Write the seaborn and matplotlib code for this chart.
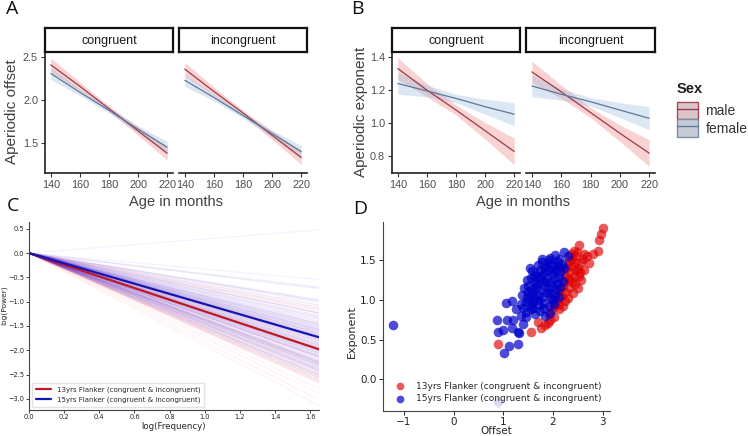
import matplotlib
matplotlib.use("Agg")
import matplotlib.pyplot as plt
from matplotlib.patches import Patch
from matplotlib.lines import Line2D
import seaborn as sns
import pandas as pd

# ---- panels A/B: fitted trends over age (months) ----
ages = [140, 160, 180, 200, 220]
conditions = ["congruent", "incongruent"]
sexes = ["male", "female"]

offset_congruent_male = [2.41, 2.16, 1.90, 1.64, 1.38]
offset_congruent_female = [2.31, 2.09, 1.88, 1.66, 1.45]
offset_incongruent_male = [2.36, 2.10, 1.85, 1.59, 1.33]
offset_incongruent_female = [2.23, 2.03, 1.82, 1.61, 1.40]
offset_ci_male = [0.08, 0.05, 0.03, 0.05, 0.08]
offset_ci_female = [0.07, 0.04, 0.03, 0.04, 0.07]

exponent_congruent_male = [1.33, 1.20, 1.08, 0.955, 0.83]
exponent_congruent_female = [1.24, 1.195, 1.15, 1.10, 1.055]
exponent_incongruent_male = [1.31, 1.19, 1.065, 0.94, 0.82]
exponent_incongruent_female = [1.225, 1.175, 1.13, 1.08, 1.03]
exponent_ci_male = [0.065, 0.04, 0.03, 0.05, 0.08]
exponent_ci_female = [0.065, 0.035, 0.025, 0.045, 0.07]

# ---- panel D: per-subject aperiodic fits ----
offset_13 = [0.89, 1.56, 1.70, 1.76, 1.90, 2.02, 1.85, 1.95, 2.12, 2.20, 2.30, 2.25,
             2.40, 2.50, 2.45, 2.57, 2.52, 2.46, 2.57, 2.63, 2.43, 2.53, 2.63, 2.73,
             2.81, 2.90, 2.93, 2.97, 3.00, 2.10, 2.18, 2.25, 2.32, 2.38, 2.30, 2.35,
             2.40, 2.30, 2.38, 2.45, 2.20, 2.25, 2.15, 2.05, 1.98, 2.28, 2.45, 2.50,
             2.55, 2.42, 2.35, 2.48, 2.36, 2.33, 2.22, 2.12, 1.92, 2.00, 2.10, 2.20,
             2.60, 2.68]
exponent_13 = [0.44, 0.60, 0.72, 0.65, 0.71, 0.78, 0.68, 0.75, 0.88, 0.92, 1.02, 0.98,
               1.08, 1.15, 1.20, 1.25, 1.30, 1.37, 1.47, 1.37, 1.62, 1.69, 1.58, 1.46,
               1.58, 1.62, 1.75, 1.83, 1.90, 1.00, 1.05, 1.10, 1.15, 1.22, 1.28, 1.35,
               1.42, 1.45, 1.52, 1.55, 1.18, 1.30, 1.12, 0.92, 0.88, 1.40, 1.48, 1.40,
               1.35, 1.30, 1.25, 1.60, 1.58, 1.50, 1.22, 0.95, 0.82, 1.00, 1.10, 1.38,
               1.52, 1.55]
offset_15 = [-1.21, 0.89, 1.01, 1.11, 1.29, 0.88, 0.89, 0.99, 1.07, 1.17, 1.19, 1.29,
             1.31, 1.05, 1.17, 1.25, 1.35, 1.40, 1.45,
             1.45, 1.55, 1.65, 1.75, 1.85, 1.95,
             1.35, 1.45, 1.55, 1.62, 1.72, 1.82, 1.92, 2.02,
             1.38, 1.48, 1.56, 1.64, 1.72, 1.80, 1.88, 1.96, 2.05, 2.12,
             1.42, 1.50, 1.58, 1.66, 1.74, 1.82, 1.90, 1.98, 2.06, 2.15,
             1.48, 1.56, 1.64, 1.72, 1.80, 1.88, 1.96, 2.04, 2.12, 2.20,
             1.58, 1.66, 1.74, 1.82, 1.90, 1.98, 2.06, 2.14, 2.22,
             1.70, 1.78, 1.86, 1.94, 2.02, 2.10, 2.18,
             1.95, 2.05, 2.12, 2.22, 2.30,
             1.52, 1.60, 1.68, 1.76, 1.84, 1.92, 1.50, 1.62, 1.70, 1.86, 1.94, 2.00,
             2.08, 1.78, 1.40, 1.60, 1.80, 2.00, 2.10, 1.54]
exponent_15 = [0.68, -0.29, 0.33, 0.42, 0.44, 0.75, 0.59, 0.62, 0.74, 0.65, 0.75, 0.60,
               0.58, 0.96, 0.98, 0.88, 0.80, 0.70, 0.78,
               0.85, 0.88, 0.82, 0.86, 0.80, 0.84,
               0.95, 0.97, 0.93, 0.98, 0.94, 0.96, 0.92, 0.95,
               1.06, 1.03, 1.07, 1.02, 1.06, 1.04, 1.08, 1.02, 1.06, 1.03,
               1.15, 1.18, 1.13, 1.16, 1.12, 1.17, 1.14, 1.18, 1.13, 1.16,
               1.25, 1.28, 1.23, 1.27, 1.24, 1.28, 1.22, 1.26, 1.29, 1.24,
               1.36, 1.33, 1.38, 1.34, 1.37, 1.32, 1.38, 1.35, 1.40,
               1.44, 1.47, 1.43, 1.46, 1.44, 1.48, 1.45,
               1.53, 1.56, 1.52, 1.60, 1.55,
               1.00, 1.10, 1.20, 1.30, 1.40, 1.50, 1.10, 1.30, 1.00, 1.22, 1.08, 1.36,
               1.20, 1.52, 0.90, 0.90, 0.90, 1.00, 1.42, 1.40]

# ---- panel C: mean aperiodic slopes (offset removed) ----
log_freq_range = [0.0, 1.65]
mean_exponent_13 = 1.20
mean_exponent_15 = 1.05
group_labels = ["13yrs Flanker (congruent & incongruent)",
                "15yrs Flanker (congruent & incongruent)"]

W, H = 748, 436
sns.set_theme(style="ticks")
plt.rcParams["font.family"] = ["Liberation Sans", "DejaVu Sans"]

fig = plt.figure(figsize=(W / 100, H / 100), dpi=100)


def px_axes(left, top, right, bottom):
    return fig.add_axes([left / W, 1 - bottom / H, (right - left) / W, (bottom - top) / H])


# table for A/B
fits = {
    ("offset", "congruent", "male"): (offset_congruent_male, offset_ci_male),
    ("offset", "congruent", "female"): (offset_congruent_female, offset_ci_female),
    ("offset", "incongruent", "male"): (offset_incongruent_male, offset_ci_male),
    ("offset", "incongruent", "female"): (offset_incongruent_female, offset_ci_female),
    ("exponent", "congruent", "male"): (exponent_congruent_male, exponent_ci_male),
    ("exponent", "congruent", "female"): (exponent_congruent_female, exponent_ci_female),
    ("exponent", "incongruent", "male"): (exponent_incongruent_male, exponent_ci_male),
    ("exponent", "incongruent", "female"): (exponent_incongruent_female, exponent_ci_female),
}
rows = []
for (measure, cond, sex), (vals, cis) in fits.items():
    for a, v, c in zip(ages, vals, cis):
        rows.append((measure, cond, sex, a, v, v - c, v + c))
fit_df = pd.DataFrame(rows, columns=["measure", "condition", "sex", "age", "value", "lo", "hi"])

line_colors = {"male": "#9c3b4b", "female": "#5d7896"}
band_colors = {"male": "#f08080", "female": "#9dbbe0"}
tick_gray = "#4d4d4d"

panel_specs = [
    ("offset", [(45, 173), (179, 307)], (1.15, 2.56), [1.5, 2.0, 2.5], "Aperiodic offset", 12, 176),
    ("exponent", [(392, 520), (526, 655)], (0.70, 1.43), [0.8, 1.0, 1.2, 1.4], "Aperiodic exponent", 361, 523),
]

for measure, spans, ylim, yticks, ylabel, ylab_x, xlab_x in panel_specs:
    for i, (cond, (l, r)) in enumerate(zip(conditions, spans)):
        ax = px_axes(l, 52, r, 173)
        d = fit_df[(fit_df.measure == measure) & (fit_df.condition == cond)]
        for sex in sexes:
            s = d[d.sex == sex]
            ax.fill_between(s.age, s.lo, s.hi, color=band_colors[sex], alpha=0.35, lw=0)
        sns.lineplot(data=d, x="age", y="value", hue="sex", palette=line_colors,
                     hue_order=sexes, ax=ax, legend=False, lw=0.9)
        ax.set_xlim(136, 224)
        ax.set_ylim(*ylim)
        ax.set_xticks(ages)
        ax.set_yticks(yticks)
        ax.set_xlabel("")
        ax.set_ylabel("")
        ax.tick_params(labelsize=7.8, labelcolor=tick_gray, length=3, width=0.8,
                       color="#333333", pad=2)
        for sp in ["left", "bottom"]:
            ax.spines[sp].set_linewidth(1.2)
            ax.spines[sp].set_color("#222222")
        ax.spines["top"].set_visible(False)
        ax.spines["right"].set_visible(False)
        if i == 1:
            ax.spines["left"].set_visible(False)
            ax.tick_params(left=False, labelleft=False)
        # facet strip
        strip = px_axes(l, 28, r, 52)
        strip.set_xticks([])
        strip.set_yticks([])
        strip.set_facecolor("white")
        for sp in strip.spines.values():
            sp.set_linewidth(1.6)
            sp.set_color("#111111")
        strip.text(0.5, 0.45, cond, ha="center", va="center", fontsize=9, color="#1a1a1a",
                   transform=strip.transAxes)
    fig.text(ylab_x / W, 1 - 112 / H, ylabel, rotation=90, ha="center", va="center",
             fontsize=11, color="#404040")
    fig.text(xlab_x / W, 1 - 202 / H, "Age in months", ha="center", va="center",
             fontsize=10.5, color="#404040")

# Sex legend
fig.text(677 / W, 1 - 89 / H, "Sex", ha="left", va="center", fontsize=10.5,
         fontweight="bold", color="#222222")
sex_handles = [
    (Patch(facecolor="#dcc5c9", edgecolor="#a8485a", lw=1.0), Line2D([], [], color=line_colors["male"], lw=1)),
    (Patch(facecolor="#c5ccd5", edgecolor="#7d8ea6", lw=1.0), Line2D([], [], color=line_colors["female"], lw=1)),
]
leg = fig.legend(handles=sex_handles, labels=sexes, loc="upper left",
                 bbox_to_anchor=(677 / W, 1 - 102 / H), frameon=False, fontsize=10,
                 handlelength=1.5, handleheight=1.55, labelspacing=0.0, handletextpad=0.55,
                 borderpad=0, borderaxespad=0)
for t in leg.get_texts():
    t.set_color("#333333")

# ---- panel C ----
dv = ["DejaVu Sans"]
axC = px_axes(29, 222, 319, 410)
line_rows = []
for grp, exps in [(group_labels[0], exponent_13), (group_labels[1], exponent_15)]:
    for k, e in enumerate(exps):
        for x in log_freq_range:
            line_rows.append((grp, f"{grp}-{k}", x, -e * x))
lines_df = pd.DataFrame(line_rows, columns=["group", "subject", "logf", "logp"])
sns.lineplot(data=lines_df, x="logf", y="logp", hue="group", units="subject",
             estimator=None, palette={group_labels[0]: "#ff2020", group_labels[1]: "#2020ff"},
             alpha=0.06, lw=0.8, legend=False, ax=axC)
mean_rows = []
for grp, e in [(group_labels[0], mean_exponent_13), (group_labels[1], mean_exponent_15)]:
    for x in log_freq_range:
        mean_rows.append((grp, x, -e * x))
mean_df = pd.DataFrame(mean_rows, columns=["group", "logf", "logp"])
sns.lineplot(data=mean_df, x="logf", y="logp", hue="group",
             palette={group_labels[0]: "#c01825", group_labels[1]: "#1515b0"},
             lw=1.6, ax=axC)
axC.set_xlim(0, 1.65)
axC.set_ylim(-3.23, 0.64)
axC.set_xticks([0.0, 0.2, 0.4, 0.6, 0.8, 1.0, 1.2, 1.4, 1.6])
axC.set_yticks([-3.0, -2.5, -2.0, -1.5, -1.0, -0.5, 0.0, 0.5])
axC.tick_params(labelsize=4.8, length=2.2, width=0.6, pad=1.0, labelcolor="#222222")
for t in axC.get_xticklabels() + axC.get_yticklabels():
    t.set_family(dv)
axC.set_xlabel("log(Frequency)", fontsize=6.2, family=dv, labelpad=1)
axC.set_ylabel("")
fig.text(4 / W, 1 - 305 / H, "log(Power)", rotation=90, ha="center", va="center",
         fontsize=5.4, family=dv, color="#222222")
for sp in ["left", "bottom"]:
    axC.spines[sp].set_linewidth(0.8)
    axC.spines[sp].set_color("#444444")
axC.spines["top"].set_visible(False)
axC.spines["right"].set_visible(False)
axC.legend(loc="lower left", prop={"family": dv, "size": 5},
           handlelength=2.2, borderpad=0.5, labelspacing=0.5, framealpha=0.8,
           edgecolor="#dddddd", fancybox=False)

# ---- panel D ----
axD = px_axes(383, 222, 610, 411)
d13 = pd.DataFrame({"offset": offset_13, "exponent": exponent_13})
d15 = pd.DataFrame({"offset": offset_15, "exponent": exponent_15})
sns.scatterplot(data=d13, x="offset", y="exponent", color="#e00000", alpha=0.65, s=48,
                linewidth=0, ax=axD, label=group_labels[0])
sns.scatterplot(data=d15, x="offset", y="exponent", color="#0000c8", alpha=0.7, s=48,
                linewidth=0, ax=axD, label=group_labels[1])
axD.set_xlim(-1.42, 3.15)
axD.set_ylim(-0.40, 1.98)
axD.set_xticks([-1, 0, 1, 2, 3])
axD.set_yticks([0.0, 0.5, 1.0, 1.5])
axD.tick_params(labelsize=7.5, length=3, width=0.7, pad=1.5, labelcolor="#222222")
for t in axD.get_xticklabels() + axD.get_yticklabels():
    t.set_family(dv)
axD.set_xlabel("")
fig.text(496 / W, 1 - 431 / H, "Offset", ha="center", va="center", fontsize=7.5,
         family=dv, color="#222222")
axD.set_ylabel("Exponent", fontsize=8, family=dv)
axD.yaxis.set_label_coords(-0.115, 0.42)
for sp in ["left", "bottom"]:
    axD.spines[sp].set_linewidth(0.8)
    axD.spines[sp].set_color("#444444")
axD.spines["top"].set_visible(False)
axD.spines["right"].set_visible(False)
axD.legend(loc="lower left", prop={"family": dv, "size": 6.5}, handletextpad=0.8,
           borderpad=0.3, labelspacing=0.35, framealpha=0.8, edgecolor="white",
           borderaxespad=0.6, markerscale=0.8)

# panel letters
for letter, x, y in [("A", 12, 9), ("B", 357, 9), ("C", 13, 206), ("D", 360, 209)]:
    fig.text(x / W, 1 - y / H, letter, ha="center", va="center", fontsize=14,
             family=["Open Sans", "DejaVu Sans"], color="#111111")

fig.savefig("out.png", dpi=100)
